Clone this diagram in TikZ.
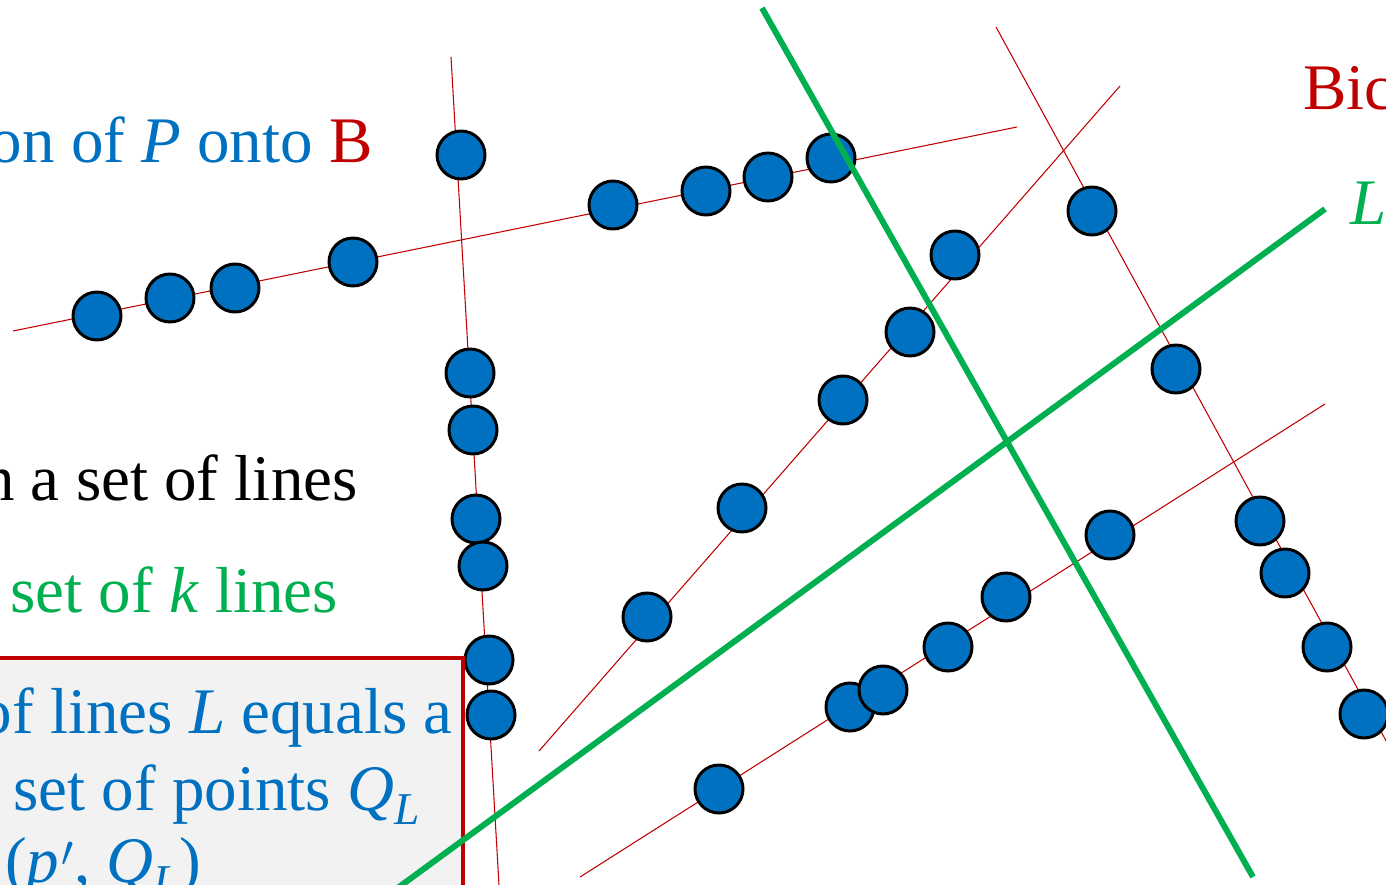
\documentclass[tikz,border=0pt]{standalone}
\usepackage{fontspec}
\setmainfont{Liberation Serif}
\usepackage{tikz}
\usetikzlibrary{positioning, calc}
\definecolor{ptBlue}{HTML}{0070C0}
\definecolor{lineRed}{HTML}{C00000}
\definecolor{kGreen}{HTML}{00B050}
\definecolor{boxGray}{HTML}{F2F2F2}
\tikzset{
  pt/.style={circle, draw=black, line width=1.7pt, fill=ptBlue,
    minimum size=0.96cm, inner sep=0pt},
  thinline/.style={lineRed, line width=0.6pt},
  kline/.style={kGreen, line width=3.4pt},
  bigtext/.style={font=\fontsize{37}{41}\selectfont, inner sep=0pt,
    anchor=base west},
  boxframe/.style={draw=lineRed, line width=2.8pt, fill=boxGray},
}

\begin{document}
\begin{tikzpicture}[x=0.02cm, y=-0.02cm]
    \useasboundingbox (0,0) rectangle (1386,885);
    \clip (0,0) rectangle (1386,885);
    % ---------------- red lines of the set ----------------
    \coordinate (a-s) at (13,331);   \coordinate (a-e) at (1017,127);
    \coordinate (b-s) at (451,57);   \coordinate (b-e) at (499,885);
    \coordinate (c-s) at (539,751);  \coordinate (c-e) at (1120,86);
    \coordinate (d-s) at (580,877);  \coordinate (d-e) at (1325,404);
    \coordinate (e-s) at (996,27);   \coordinate (e-e) at (1390,748);
    \foreach \l in {a,b,c,d,e}
      \draw[thinline] (\l-s) -- (\l-e);
    % ---------------- points of P ----------------
    \foreach \x/\y [count=\i] in {97/316,170/298,235/288,353/262,
                                  613/205,706/191,768/177,831/158}
      \node[pt] (a\i) at (\x,\y) {};
    \foreach \x/\y [count=\i] in {461/155,470/373,473/430,476/519,
                                  483/566,489/660,491/715}
      \node[pt] (b\i) at (\x,\y) {};
    \foreach \x/\y [count=\i] in {955/255,910/332,843/400,742/508,647/617}
      \node[pt] (c\i) at (\x,\y) {};
    \foreach \x/\y [count=\i] in {1110/535,1006/597,948/647,850/707,
                                  883/690,719/789}
      \node[pt] (d\i) at (\x,\y) {};
    \foreach \x/\y [count=\i] in {1092/211,1176/369,1260/521,1285/573,
                                  1327/647,1364/714}
      \node[pt] (e\i) at (\x,\y) {};
    % ---------------- box ----------------
    \draw[boxframe] (-20,658) rectangle (463,920);
    \node[bigtext, anchor=base east, text=ptBlue] (box1) at (453,733)
      {of lines \textit{L} equals a};
    \node[bigtext, text=ptBlue] (box2) at (13,810)
      {set of points \textit{Q}\textsubscript{\textit{L}}};
    \node[bigtext, text=ptBlue] (box3) at (5,882)
      {(\textit{p}\kern1pt$'$, \textit{Q}\textsubscript{\textit{L}})};
    % ---------------- the k lines L ----------------
    \coordinate (g1-s) at (762,8);   \coordinate (g1-e) at (1253,877);
    \coordinate (g2-s) at (399,887); \coordinate (g2-e) at (1325,209);
    \draw[kline] (g1-s) -- (g1-e);
    \draw[kline] (g2-s) -- (g2-e);
    % ---------------- texts ----------------
    \node[bigtext, anchor=base east, text=ptBlue] (proj) at (373,163)
      {on of \textit{P} onto \textcolor{lineRed}{B}};
    \node[bigtext, anchor=base east] (setl) at (358,500) {n a set of lines};
    \node[bigtext, text=kGreen] (setk) at (10,612)
      {set of \textit{k} lines};
    \node[bigtext, text=lineRed] (bic) at (1303,110) {Bic};
    \node[bigtext, text=kGreen] (lab) at (1350,225) {\textit{L}};
\end{tikzpicture}
\end{document}
